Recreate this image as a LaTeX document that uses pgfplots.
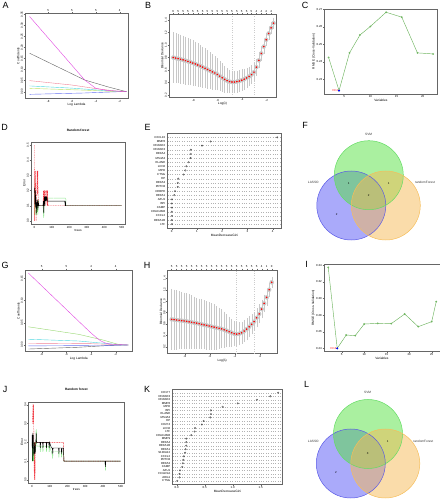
\documentclass[border=0pt]{standalone}
\usepackage{pgfplots}
\usepackage{pgfplotstable}
\pgfplotsset{compat=1.18}
\usepackage{fontspec}
\setmainfont{Liberation Sans}

\newcommand\tk{\fontsize{2.9}{3.3}\selectfont}
\newcommand\lb{\fontsize{3.2}{3.7}\selectfont}
\newcommand\pl{\fontsize{9}{10}\selectfont}

\definecolor{cmag}{RGB}{225,70,225}
\definecolor{cgray}{RGB}{100,100,100}
\definecolor{cpink}{RGB}{240,130,150}
\definecolor{ccyan}{RGB}{80,215,225}
\definecolor{cyg}{RGB}{190,225,100}
\definecolor{cblue}{RGB}{100,110,240}
\definecolor{clgreen}{RGB}{150,215,110}
\definecolor{rmse}{RGB}{110,180,95}
\definecolor{rfred}{RGB}{240,50,60}
\definecolor{rfgreen}{RGB}{90,220,90}
\definecolor{vsvm}{RGB}{85,225,65}
\definecolor{vsvmb}{RGB}{100,220,100}
\definecolor{vlasso}{RGB}{85,85,245}
\definecolor{vlassob}{RGB}{90,90,230}
\definecolor{vrf}{RGB}{245,185,85}
\definecolor{vrfb}{RGB}{245,190,90}
\definecolor{errgray}{RGB}{200,200,200}

\pgfplotsset{
  rbase/.style={scale only axis, anchor=south west,
    axis line style={black!60, line width=0.35bp},
    every tick/.style={black!60, line width=0.3bp},
    major tick length=1.3bp, tick align=outside, tick pos=left,
    tick label style={font=\tk, inner sep=0.6bp},
    label style={font=\lb, inner sep=0.6bp},
    /pgf/number format/assume math mode=true,
    scaled ticks=false},
  rot/.style={yticklabel style={rotate=90, anchor=south}},
  prec/.style={yticklabel style={/pgf/number format/fixed, /pgf/number format/fixed zerofill, /pgf/number format/precision=#1}},
  topax/.style={rbase, xtick pos=right, xticklabel pos=right, ytick=\empty, axis line style={draw=none}},
  rftitle/.style={title={\textbf{Random forest}}, title style={font=\lb, at={(0.5,1)}, anchor=south, yshift=4bp, inner sep=0.5bp}},
  dotch/.style={ymajorgrids, grid style={dotted, gray!60, line width=0.25bp},
    ytick style={draw=none}, yticklabel pos=left, yticklabel style={anchor=east, inner sep=0.8bp}},
  errb/.style={errgray, only marks, mark=none, forget plot,
    error bars/.cd, y dir=both, y explicit,
    error bar style={errgray, solid, line width=0.3bp},
    error mark options={errgray, solid, mark size=0.9bp, line width=0.3bp}},
}

\pgfplotstableread{
x y e
-9.64 0.800 0.390
-9.44 0.791 0.386
-9.24 0.782 0.382
-9.04 0.772 0.378
-8.84 0.762 0.373
-8.64 0.750 0.368
-8.44 0.738 0.362
-8.24 0.725 0.356
-8.04 0.712 0.350
-7.84 0.697 0.341
-7.64 0.681 0.332
-7.44 0.664 0.322
-7.24 0.646 0.312
-7.04 0.628 0.302
-6.84 0.609 0.291
-6.64 0.590 0.280
-6.44 0.570 0.269
-6.24 0.552 0.256
-6.04 0.530 0.242
-5.84 0.503 0.228
-5.64 0.476 0.214
-5.44 0.451 0.200
-5.24 0.430 0.186
-5.04 0.415 0.175
-4.84 0.408 0.168
-4.64 0.408 0.164
-4.44 0.414 0.162
-4.24 0.424 0.160
-4.04 0.437 0.157
-3.84 0.453 0.153
-3.64 0.473 0.148
-3.44 0.497 0.143
-3.24 0.527 0.138
-3.04 0.566 0.132
-2.84 0.645 0.124
-2.64 0.755 0.115
-2.44 0.865 0.106
-2.24 0.975 0.098
-2.04 1.085 0.092
-1.84 1.185 0.086
-1.64 1.275 0.080
-1.44 1.350 0.075
}\Btab

\pgfplotstableread{
x y e
-9.07 0.680 0.520
-8.87 0.675 0.513
-8.67 0.669 0.505
-8.47 0.664 0.497
-8.27 0.658 0.490
-8.07 0.652 0.483
-7.87 0.645 0.474
-7.67 0.637 0.464
-7.47 0.629 0.454
-7.27 0.621 0.444
-7.07 0.613 0.434
-6.87 0.603 0.426
-6.67 0.593 0.420
-6.47 0.583 0.414
-6.27 0.574 0.408
-6.07 0.564 0.402
-5.87 0.553 0.394
-5.67 0.543 0.382
-5.47 0.533 0.367
-5.27 0.524 0.348
-5.07 0.514 0.327
-4.87 0.497 0.303
-4.67 0.481 0.275
-4.47 0.463 0.247
-4.27 0.446 0.227
-4.07 0.428 0.207
-3.87 0.421 0.195
-3.67 0.428 0.188
-3.47 0.444 0.180
-3.27 0.475 0.180
-3.07 0.508 0.180
-2.87 0.550 0.172
-2.67 0.593 0.160
-2.47 0.640 0.150
-2.27 0.708 0.150
-2.07 0.775 0.150
-1.87 0.860 0.145
-1.67 0.960 0.138
-1.47 1.066 0.129
-1.27 1.200 0.105
-1.07 1.330 0.080
}\Htab

\pgfplotstableread{
y v
22 4.18
21 1.54
20 1.20
19 0.76
18 0.75
17 0.75
16 0.67
15 0.58
14 0.54
13 0.47
12 0.26
11 0.24
10 0.24
9 0.13
8 0.10
7 0.01
6 0.01
5 0.01
4 0.01
3 0.01
2 0.01
1 0.01
}\Etab

\pgfplotstableread{
y v
26 1.81
25 1.67
24 1.43
23 1.09
22 0.82
21 0.61
20 0.61
19 0.60
18 0.48
17 0.45
16 0.33
15 0.32
14 0.26
13 0.17
12 0.17
11 0.17
10 0.16
9 0.15
8 0.13
7 0.12
6 0.11
5 0.10
4 0.06
3 0.05
2 0.05
1 0.01
}\Ktab

\begin{document}
\begin{tikzpicture}
\path[use as bounding box] (0,0) rectangle (440bp,500bp);

% ---------------- A ----------------
\begin{axis}[rbase, rot, prec=2, at={(25bp,402bp)}, width=103bp, height=84.5bp,
  xmin=-9.95, xmax=-1.3, ymin=-0.0286, ymax=0.354,
  xtick={-8,-6,-4,-2}, ytick={0,0.05,0.10,0.15,0.20,0.25,0.30,0.35},
  xlabel={Log Lambda}, ylabel={Coefficients}]
\addplot[cblue, line width=0.4bp] coordinates {(-9.56,-0.012) (-5,-0.006) (-2,0) (-1.44,0)};
\addplot[cyg, line width=0.4bp] coordinates {(-9.56,0.015) (-5,0.007) (-2.5,0.001) (-1.44,0)};
\addplot[ccyan, line width=0.4bp] coordinates {(-9.56,0.026) (-6,0.016) (-3,0.004) (-1.44,0)};
\addplot[cpink, line width=0.4bp] coordinates {(-9.56,0.05) (-6,0.03) (-4,0.014) (-2.5,0.004) (-1.44,0)};
\addplot[cgray, line width=0.4bp] coordinates {(-9.56,0.174) (-7,0.107) (-4.94,0.053) (-3,0.022) (-1.44,0)};
\addplot[cmag, line width=0.4bp] coordinates {(-9.56,0.34) (-4.94,0.053) (-4.0,0.015) (-3.0,0.005) (-1.44,0)};
\end{axis}
\begin{axis}[topax, at={(25bp,402bp)}, width=103bp, height=84.5bp,
  xmin=-9.95, xmax=-1.3, ymin=-0.0286, ymax=0.354,
  xtick={-8,-6,-4,-2}, xticklabels={5,5,5,4}]
\end{axis}

% ---------------- B ----------------
\begin{axis}[rbase, rot, prec=1, at={(169bp,403.1bp)}, width=107bp, height=82.5bp,
  xmin=-9.99, xmax=-1.24, ymin=0.17, ymax=1.49,
  xtick={-8,-6,-4,-2}, ytick={0.2,0.4,0.6,0.8,1.0,1.2,1.4},
  xlabel={Log(λ)}, ylabel={Binomial Deviance}]
\addplot[gray!40, line width=0.3bp, dotted, forget plot] coordinates {(-4.84,0.17) (-4.84,1.49)};
\addplot[gray!40, line width=0.3bp, dotted, forget plot] coordinates {(-3.04,0.17) (-3.04,1.49)};
\addplot[errb] table[x=x, y=y, y error=e] {\Btab};
\addplot[only marks, mark=*, mark size=0.55bp, red] table[x=x, y=y] {\Btab};
\end{axis}
\begin{axis}[topax, at={(169bp,403.1bp)}, width=107bp, height=82.5bp,
  xmin=-9.99, xmax=-1.24, ymin=0.17, ymax=1.49,
  xtick={-9.64,-9.24,-8.84,-8.44,-8.04,-7.64,-7.24,-6.84,-6.44,-6.04,-5.64,-5.24,-4.84,-4.44,-4.04,-3.64,-3.24,-2.84,-2.44,-2.04,-1.64},
  xticklabels={6,5,5,5,5,5,5,5,5,5,5,5,5,5,5,5,5,4,4,4,4}]
\end{axis}

% ---------------- C ----------------
\begin{axis}[rbase, prec=2, at={(324.4bp,406.3bp)}, width=112.9bp, height=84.6bp,
  xmin=1.2, xmax=22.8, ymin=0.2218, ymax=0.2701,
  xtick={5,10,15,20}, ytick={0.23,0.24,0.25,0.26,0.27},
  xlabel={Variables}, ylabel={RMSE (Cross-Validation)}]
\addplot[rmse, line width=0.45bp, mark=o, mark size=0.7bp] coordinates {
(2,0.2425) (4,0.2236) (6,0.2451) (8,0.2553) (10,0.2602) (13,0.2683) (16,0.2655) (19,0.2451) (22,0.2445)};
\addplot[only marks, mark=*, mark size=0.75bp, blue] coordinates {(4,0.2236)};
\node[font=\tk, text=red, anchor=east, inner sep=0.9bp] at (axis cs:4,0.2236) {N=4};
\end{axis}

% ---------------- D ----------------
\begin{axis}[rbase, rot, prec=1, rftitle, at={(31bp,276bp)}, width=94.2bp, height=82bp,
  xmin=-19, xmax=520, ymin=-0.02, ymax=0.52,
  xtick={0,100,200,300,400,500}, ytick={0,0.1,0.2,0.3,0.4,0.5},
  xlabel={trees}, ylabel={Error}]
\addplot[rfgreen, line width=0.4bp, dash pattern=on 0.4bp off 0.5bp] coordinates {
(1,0.28) (2,0.04) (3,0.20) (4,0.10) (5,0.14) (6,0.20) (7,0.04) (8,0.14) (10,0.10) (12,0.04) (14,0.10) (16,0.06) (18,0.10) (20,0.04) (22,0.10) (24,0.14) (26,0.10) (50,0.10) (52,0.06) (54,0.02) (56,0.10) (58,0.14) (60,0.15) (180,0.15) (181,0.10) (500,0.10)};
\addplot[rfred, line width=0.4bp, dash pattern=on 1bp off 0.7bp] coordinates {
(1,0.50) (2,0.00) (3,0.33) (4,0.33) (5,0.17) (6,0.33) (8,0.17) (10,0.00) (12,0.17) (14,0.17) (16,0.33) (18,0.17) (20,0.33) (22,0.17) (24,0.10) (50,0.10) (52,0.20) (54,0.10) (56,0.20) (58,0.10) (60,0.20) (64,0.20) (66,0.10) (68,0.20) (72,0.20) (74,0.10) (76,0.20) (78,0.10) (500,0.10)};
\addplot[black, line width=0.45bp] coordinates {
(1,0.20) (2,0.22) (3,0.11) (4,0.17) (5,0.14) (6,0.20) (7,0.09) (8,0.17) (9,0.13) (10,0.10) (11,0.14) (12,0.05) (13,0.10) (14,0.12) (16,0.10) (18,0.14) (19,0.10) (20,0.07) (22,0.10) (24,0.12) (26,0.10) (50,0.10) (52,0.13) (54,0.05) (56,0.13) (58,0.16) (60,0.10) (62,0.16) (64,0.13) (66,0.16) (68,0.16) (70,0.13) (72,0.16) (74,0.13) (80,0.13) (175,0.13) (176,0.10) (178,0.13) (180,0.10) (500,0.10)};
\end{axis}

% ---------------- E ----------------
\begin{axis}[rbase, dotch, at={(167.5bp,271.7bp)}, width=114bp, height=95.1bp,
  xmin=-0.167, xmax=4.35, ymin=0, ymax=23,
  xtick={0,1,2,3,4}, ytick={1,...,22},
  yticklabels={LTF,DEFA1B,CXCL2,CEACAM8,CAMP,BPI,AZU1,DEFA1,CEBPE,PRTN3,DEFA3,HP,CTSG,MPO,LCN2,ELANE,MS4A3,DEFA4,RNASE3,RNASE2,MMP8,CXCL10},
  xlabel={MeanDecreaseGini}]
\addplot[only marks, mark=o, mark size=0.8bp, black!75, line width=0.3bp] table[x=v, y=y] {\Etab};
\end{axis}

% ---------------- G ----------------
\begin{axis}[rbase, rot, prec=2, at={(25.1bp,148.4bp)}, width=107.3bp, height=81.6bp,
  xmin=-9.35, xmax=-0.65, ymin=-0.0148, ymax=0.1688,
  xtick={-8,-6,-4,-2}, ytick={0,0.05,0.10,0.15},
  xlabel={Log Lambda}, ylabel={Coefficients}]
\addplot[cgray, line width=0.4bp] coordinates {(-9.09,-0.009) (-5,-0.005) (-2.5,-0.001) (-1.5,0) (-0.97,0)};
\addplot[cblue, line width=0.4bp] coordinates {(-9.09,-0.002) (-3,-0.001) (-0.97,0)};
\addplot[cpink, line width=0.4bp] coordinates {(-9.09,0.004) (-4,0.003) (-0.97,0)};
\addplot[ccyan, line width=0.4bp] coordinates {(-9.09,0.013) (-5,0.009) (-3,0.004) (-1.8,0.001) (-0.97,0)};
\addplot[clgreen, line width=0.4bp] coordinates {(-9.09,0.041) (-5,0.024) (-3,0.011) (-2,0.003) (-1.5,0) (-0.97,0)};
\addplot[cmag, line width=0.4bp] coordinates {(-9.09,0.162) (-4.5,0.040) (-4.0,0.027) (-3.54,0.016) (-3.2,0.009) (-2.8,0.004) (-2.4,0.002) (-0.97,0)};
\end{axis}
\begin{axis}[topax, at={(25.1bp,148.4bp)}, width=107.3bp, height=81.6bp,
  xmin=-9.35, xmax=-0.65, ymin=-0.0148, ymax=0.1688,
  xtick={-8,-6,-4,-2}, xticklabels={5,5,4,4}]
\end{axis}

% ---------------- H ----------------
\begin{axis}[rbase, rot, prec=1, at={(167.6bp,146.5bp)}, width=109.2bp, height=83.5bp,
  xmin=-9.39, xmax=-0.66, ymin=0.081, ymax=1.546,
  xtick={-8,-6,-4,-2}, ytick={0.2,0.4,0.6,0.8,1.0,1.2,1.4},
  xlabel={Log(λ)}, ylabel={Binomial Deviance}]
\addplot[gray!40, line width=0.3bp, dotted, forget plot] coordinates {(-3.87,0.081) (-3.87,1.546)};
\addplot[gray!40, line width=0.3bp, dotted, forget plot] coordinates {(-2.47,0.081) (-2.47,1.546)};
\addplot[errb] table[x=x, y=y, y error=e] {\Htab};
\addplot[only marks, mark=*, mark size=0.55bp, red] table[x=x, y=y] {\Htab};
\end{axis}
\begin{axis}[topax, at={(167.6bp,146.5bp)}, width=109.2bp, height=83.5bp,
  xmin=-9.39, xmax=-0.66, ymin=0.081, ymax=1.546,
  xtick={-9.07,-8.67,-8.27,-7.87,-7.47,-7.07,-6.67,-6.27,-5.87,-5.47,-5.07,-4.67,-4.27,-3.87,-3.47,-3.07,-2.67,-2.27,-1.87,-1.47,-1.07},
  xticklabels={5,5,5,5,5,5,5,5,5,5,5,5,5,5,5,5,5,5,4,1,0}]
\end{axis}

% ---------------- I ----------------
\begin{axis}[rbase, prec=2, at={(323.9bp,148.4bp)}, width=115.9bp, height=87.5bp,
  xmin=1.04, xmax=26.8, ymin=0.2361, ymax=0.3411,
  xtick={5,10,15,20,25}, ytick={0.24,0.26,0.28,0.30,0.32,0.34},
  xlabel={Variables}, ylabel={RMSE (Cross-Validation)}]
\addplot[rmse, line width=0.45bp, mark=o, mark size=0.7bp] coordinates {
(2,0.3372) (4,0.2400) (6,0.2560) (8,0.2552) (10,0.2692) (13,0.2700) (16,0.2696) (19,0.2812) (22,0.2660) (25,0.2720) (26,0.2960)};
\addplot[only marks, mark=*, mark size=0.75bp, blue] coordinates {(4,0.2400)};
\node[font=\tk, text=red, anchor=east, inner sep=0.9bp] at (axis cs:4,0.2400) {N=4};
\end{axis}

% ---------------- J ----------------
\begin{axis}[rbase, rot, prec=1, rftitle, at={(28.6bp,17bp)}, width=95.6bp, height=81.3bp,
  xmin=-19, xmax=520, ymin=-0.016, ymax=0.416,
  xtick={0,100,200,300,400,500}, ytick={0,0.1,0.2,0.3,0.4},
  xlabel={trees}, ylabel={Error}]
\addplot[rfgreen, line width=0.4bp, dash pattern=on 0.4bp off 0.5bp] coordinates {
(1,0.20) (2,0.10) (3,0.20) (4,0.10) (5,0.18) (6,0.15) (7,0.10) (8,0.20) (9,0.10) (10,0.15) (12,0.10) (14,0.20) (16,0.15) (18,0.20) (20,0.15) (22,0.20) (24,0.27) (26,0.20) (28,0.18) (45,0.18) (47,0.15) (49,0.18) (60,0.18) (62,0.15) (64,0.18) (80,0.18) (82,0.15) (84,0.18) (95,0.18) (97,0.15) (99,0.18) (110,0.15) (117,0.12) (119,0.15) (150,0.15) (152,0.12) (154,0.15) (165,0.15) (167,0.12) (170,0.15) (178,0.15) (180,0.10) (412,0.10) (414,0.05) (416,0.10) (500,0.10)};
\addplot[rfred, line width=0.4bp, dash pattern=on 1bp off 0.7bp] coordinates {
(1,0.30) (3,0.30) (5,0.40) (7,0.30) (9,0.40) (11,0.20) (13,0.00) (15,0.20) (17,0.00) (19,0.20) (21,0.20) (178,0.20) (180,0.10) (500,0.10)};
\addplot[black, line width=0.45bp] coordinates {
(1,0.24) (2,0.10) (3,0.24) (4,0.17) (5,0.25) (6,0.20) (7,0.17) (8,0.24) (9,0.14) (10,0.17) (11,0.13) (12,0.17) (13,0.14) (14,0.20) (15,0.15) (16,0.17) (18,0.14) (20,0.17) (22,0.20) (24,0.25) (26,0.20) (28,0.20) (45,0.20) (47,0.17) (49,0.20) (60,0.20) (62,0.17) (64,0.20) (80,0.20) (82,0.17) (84,0.20) (95,0.20) (97,0.17) (99,0.20) (110,0.17) (115,0.17) (117,0.14) (119,0.17) (150,0.17) (152,0.14) (154,0.17) (165,0.17) (167,0.14) (170,0.17) (178,0.17) (180,0.10) (412,0.10) (414,0.07) (416,0.10) (500,0.10)};
\end{axis}

% ---------------- K ----------------
\begin{axis}[rbase, dotch, at={(172.5bp,15.5bp)}, width=109.8bp, height=95.3bp,
  xmin=-0.075, xmax=1.885, ymin=0, ymax=27,
  xtick={0,0.5,1,1.5}, ytick={1,...,26},
  xticklabel style={/pgf/number format/fixed, /pgf/number format/fixed zerofill, /pgf/number format/precision=1},
  yticklabels={CTSG,ARG1,FCGR1A,AZU1,CAMP,DEFA3,PRTN3,CXCL2,S100A12,DEFA1,DEFA1B,DEFA4,MMP9,CEACAM8,LTF,LCN2,CD274,HP,MS4A3,ELANE,BPI,MPO,MMP8,RNASE2,RNASE3,CD177},
  xlabel={MeanDecreaseGini}]
\addplot[only marks, mark=o, mark size=0.8bp, black!75, line width=0.3bp] table[x=v, y=y] {\Ktab};
\end{axis}

% ---------------- overlay: Venn diagrams and panel letters ----------------
\begin{axis}[at={(0,0)}, anchor=south west, scale only axis, width=440bp, height=500bp,
  xmin=0, xmax=440, ymin=0, ymax=500, hide axis, clip=false]
% F
\fill[vlasso, fill opacity=0.5] (axis cs:351.3,294.5) circle[radius=34.5bp];
\fill[vsvm, fill opacity=0.5] (axis cs:368.8,324.8) circle[radius=34.5bp];
\fill[vrf, fill opacity=0.5] (axis cs:385.8,294.5) circle[radius=34.5bp];
\draw[vlassob, line width=0.5bp] (axis cs:351.3,294.5) circle[radius=34.5bp];
\draw[vsvmb, line width=0.5bp] (axis cs:368.8,324.8) circle[radius=34.5bp];
\draw[vrfb, line width=0.5bp] (axis cs:385.8,294.5) circle[radius=34.5bp];
\node[font=\lb, text=black!80] at (axis cs:368.7,365.7) {SVM};
\node[font=\lb, text=black!80] at (axis cs:313.3,317.7) {LASSO};
\node[font=\lb, text=black!80] at (axis cs:425,317.7) {randomForest};
\node[font=\tk] at (axis cs:348.7,316.7) {1};
\node[font=\tk] at (axis cs:388.7,316.7) {1};
\node[font=\tk] at (axis cs:368.7,305) {2};
\node[font=\tk] at (axis cs:336.7,285.7) {2};
% L
\fill[vlasso, fill opacity=0.5] (axis cs:350.8,36.5) circle[radius=34.5bp];
\fill[vsvm, fill opacity=0.5] (axis cs:368,66) circle[radius=34.5bp];
\fill[vrf, fill opacity=0.5] (axis cs:385.3,36.5) circle[radius=34.5bp];
\draw[vlassob, line width=0.5bp] (axis cs:350.8,36.5) circle[radius=34.5bp];
\draw[vsvmb, line width=0.5bp] (axis cs:368,66) circle[radius=34.5bp];
\draw[vrfb, line width=0.5bp] (axis cs:385.3,36.5) circle[radius=34.5bp];
\node[font=\lb, text=black!80] at (axis cs:367.7,107.7) {SVM};
\node[font=\lb, text=black!80] at (axis cs:313.3,59) {LASSO};
\node[font=\lb, text=black!80] at (axis cs:423.3,59) {randomForest};
\node[font=\tk] at (axis cs:387.7,58.3) {1};
\node[font=\tk] at (axis cs:367.7,46) {3};
\node[font=\tk] at (axis cs:336,27.3) {2};
% panel letters
\node[font=\pl] at (axis cs:5.5,494.5) {A};
\node[font=\pl] at (axis cs:148,494.5) {B};
\node[font=\pl] at (axis cs:305,494.5) {C};
\node[font=\pl] at (axis cs:4.5,373) {D};
\node[font=\pl] at (axis cs:147.5,373) {E};
\node[font=\pl] at (axis cs:305,374.5) {F};
\node[font=\pl] at (axis cs:5,235) {G};
\node[font=\pl] at (axis cs:147,235) {H};
\node[font=\pl] at (axis cs:306.7,236) {I};
\node[font=\pl] at (axis cs:5,111) {J};
\node[font=\pl] at (axis cs:147,111) {K};
\node[font=\pl] at (axis cs:306.7,116) {L};
\end{axis}
\end{tikzpicture}
\end{document}
